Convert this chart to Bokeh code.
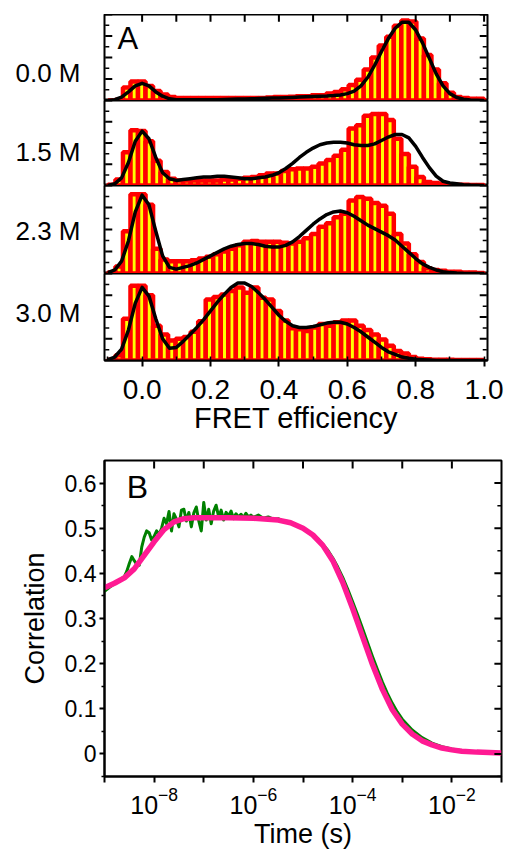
import math
from bokeh.plotting import figure
from bokeh.layouts import column
from bokeh.models import (FixedTicker, SingleIntervalTicker, NumeralTickFormatter,
                          Label, Range1d, Spacer)
from bokeh.embed import file_html
from bokeh.resources import INLINE

FONT = "Liberation Sans"

# ---------------- Panel A data ----------------
ROW_LABELS = ["0.0 M", "1.5 M", "2.3 M", "3.0 M"]

BIN_CENTERS = [-0.089, -0.067, -0.045, -0.023, -0.001, 0.021, 0.043, 0.065, 0.087, 0.109,
               0.131, 0.153, 0.175, 0.197, 0.219, 0.241, 0.263, 0.285, 0.307, 0.329,
               0.351, 0.373, 0.395, 0.417, 0.439, 0.461, 0.483, 0.505, 0.527, 0.549,
               0.571, 0.593, 0.615, 0.637, 0.659, 0.681, 0.703, 0.725, 0.747, 0.769,
               0.791, 0.813, 0.835, 0.857, 0.879, 0.901, 0.923, 0.945, 0.967, 0.989]
BIN_WIDTH = 0.022

HIST_00 = [0.00, 0.01, 0.15, 0.22, 0.22, 0.17, 0.11, 0.07, 0.04, 0.03,
           0.03, 0.03, 0.03, 0.03, 0.03, 0.03, 0.03, 0.03, 0.03, 0.03,
           0.03, 0.035, 0.04, 0.04, 0.045, 0.05, 0.05, 0.06, 0.06, 0.08,
           0.10, 0.13, 0.18, 0.24, 0.36, 0.50, 0.64, 0.74, 0.87, 0.93,
           0.92, 0.72, 0.53, 0.36, 0.20, 0.09, 0.04, 0.03, 0.02, 0.02]
HIST_15 = [0.01, 0.07, 0.39, 0.65, 0.64, 0.52, 0.29, 0.16, 0.08, 0.06,
           0.06, 0.06, 0.06, 0.06, 0.06, 0.07, 0.07, 0.08, 0.09, 0.10,
           0.12, 0.14, 0.14, 0.17, 0.19, 0.20, 0.20, 0.22, 0.26, 0.30,
           0.35, 0.42, 0.67, 0.71, 0.82, 0.84, 0.84, 0.77, 0.55, 0.37,
           0.22, 0.10, 0.04, 0.03, 0.02, 0.015, 0.01, 0.01, 0.005, 0.005]
HIST_23 = [0.01, 0.08, 0.48, 0.90, 0.90, 0.78, 0.28, 0.16, 0.14, 0.14,
           0.14, 0.15, 0.17, 0.19, 0.22, 0.25, 0.28, 0.32, 0.36, 0.37,
           0.36, 0.36, 0.36, 0.35, 0.34, 0.36, 0.40, 0.45, 0.53, 0.57,
           0.64, 0.68, 0.83, 0.87, 0.85, 0.80, 0.77, 0.68, 0.45, 0.34,
           0.22, 0.13, 0.06, 0.04, 0.03, 0.02, 0.02, 0.01, 0.01, 0.005]
HIST_30 = [0.01, 0.06, 0.48, 0.86, 0.86, 0.75, 0.40, 0.30, 0.23, 0.25,
           0.27, 0.33, 0.45, 0.70, 0.73, 0.76, 0.80, 0.84, 0.78, 0.84,
           0.72, 0.70, 0.57, 0.46, 0.37, 0.36, 0.34, 0.38, 0.42, 0.40,
           0.44, 0.46, 0.46, 0.40, 0.35, 0.30, 0.24, 0.17, 0.11, 0.08,
           0.04, 0.02, 0.015, 0.01, 0.01, 0.01, 0.005, 0.005, 0.005, 0.005]

FIT_X = [-0.10, -0.08, -0.06, -0.04, -0.02, 0.00, 0.02, 0.04, 0.06, 0.08,
         0.10, 0.12, 0.14, 0.16, 0.18, 0.20, 0.22, 0.24, 0.26, 0.28,
         0.30, 0.32, 0.34, 0.36, 0.38, 0.40, 0.42, 0.44, 0.46, 0.48,
         0.50, 0.52, 0.54, 0.56, 0.58, 0.60, 0.62, 0.64, 0.66, 0.68,
         0.70, 0.72, 0.74, 0.76, 0.78, 0.80, 0.82, 0.84, 0.86, 0.88,
         0.90, 0.92, 0.94, 0.96, 0.98, 1.00]
FIT_00 = [0.00, 0.01, 0.04, 0.10, 0.17, 0.20, 0.17, 0.10, 0.05, 0.02,
          0.01, 0.01, 0.01, 0.01, 0.01, 0.01, 0.01, 0.012, 0.014, 0.016,
          0.018, 0.02, 0.022, 0.025, 0.028, 0.03, 0.033, 0.036, 0.04, 0.043,
          0.046, 0.05, 0.053, 0.058, 0.065, 0.08, 0.11, 0.17, 0.27, 0.41,
          0.57, 0.72, 0.84, 0.91, 0.91, 0.82, 0.67, 0.49, 0.31, 0.17,
          0.08, 0.035, 0.015, 0.006, 0.003, 0.001]
FIT_15 = [0.00, 0.02, 0.09, 0.27, 0.52, 0.64, 0.55, 0.33, 0.15, 0.08,
          0.06, 0.07, 0.08, 0.09, 0.10, 0.10, 0.11, 0.11, 0.10, 0.09,
          0.08, 0.08, 0.09, 0.10, 0.12, 0.15, 0.20, 0.26, 0.33, 0.39,
          0.44, 0.48, 0.50, 0.51, 0.51, 0.50, 0.48, 0.47, 0.47, 0.49,
          0.53, 0.57, 0.60, 0.60, 0.56, 0.46, 0.33, 0.21, 0.11, 0.05,
          0.03, 0.02, 0.01, 0.005, 0.003, 0.0]
FIT_23 = [0.01, 0.04, 0.14, 0.37, 0.70, 0.89, 0.78, 0.48, 0.20, 0.07,
          0.05, 0.07, 0.09, 0.12, 0.16, 0.20, 0.24, 0.28, 0.31, 0.33,
          0.34, 0.34, 0.33, 0.31, 0.30, 0.30, 0.32, 0.36, 0.42, 0.49,
          0.56, 0.62, 0.67, 0.70, 0.71, 0.69, 0.65, 0.60, 0.55, 0.51,
          0.47, 0.43, 0.38, 0.31, 0.24, 0.17, 0.11, 0.07, 0.04, 0.02,
          0.01, 0.005, 0.002, 0.001, 0.0, 0.0]
FIT_30 = [0.01, 0.04, 0.13, 0.35, 0.66, 0.84, 0.74, 0.48, 0.25, 0.14,
          0.15, 0.22, 0.30, 0.38, 0.47, 0.57, 0.67, 0.76, 0.84, 0.89,
          0.89, 0.85, 0.78, 0.70, 0.61, 0.52, 0.45, 0.40, 0.38, 0.38,
          0.39, 0.41, 0.43, 0.44, 0.44, 0.42, 0.38, 0.33, 0.27, 0.21,
          0.15, 0.10, 0.07, 0.04, 0.025, 0.015, 0.01, 0.005, 0.0, 0.0,
          0.0, 0.0, 0.0, 0.0, 0.0, 0.0]

HISTS = [HIST_00, HIST_15, HIST_23, HIST_30]
FITS = [FIT_00, FIT_15, FIT_23, FIT_30]

# layout / axis furniture for panel A
FRAME_H = [86, 85, 88, 87]
LABEL_Y = [0.32, 0.40, 0.48, 0.55]          # where each concentration label sits
A_X_RANGE = (-0.11, 1.01)
A_Y_MAJOR = [0.0, 0.25, 0.5, 0.75, 1.0]
A_Y_MINOR = [0.125, 0.375, 0.625, 0.875]
A_TOP_TICKS = [0.0, 0.1, 0.2, 0.3, 0.4, 0.5, 0.6, 0.7, 0.8, 0.9, 1.0]

# ---------------- Panel B data ----------------
GREEN_LOGT = [-9.00, -8.90, -8.80, -8.70, -8.60, -8.55, -8.50, -8.45, -8.40, -8.35,
              -8.30, -8.25, -8.20, -8.15, -8.10, -8.05, -8.00, -7.95, -7.90, -7.85,
              -7.80, -7.75, -7.70, -7.65, -7.60, -7.55, -7.50, -7.45, -7.40, -7.35,
              -7.30, -7.25, -7.20, -7.15, -7.10, -7.05, -7.00, -6.95, -6.90, -6.85,
              -6.80, -6.75, -6.70, -6.65, -6.60, -6.55, -6.50, -6.45, -6.40, -6.35,
              -6.30, -6.25, -6.20, -6.15, -6.10, -6.05, -6.00, -5.90, -5.80, -5.70,
              -5.60, -5.50, -5.40, -5.30, -5.20, -5.10, -5.00, -4.90, -4.80, -4.70,
              -4.60, -4.50, -4.40, -4.30, -4.20, -4.10, -4.00, -3.90, -3.80, -3.70,
              -3.60, -3.50, -3.40, -3.30, -3.20, -3.10, -3.00, -2.80, -2.60, -2.40,
              -2.20, -2.00, -1.80, -1.50, -1.00]
GREEN_C = [0.360, 0.369, 0.377, 0.385, 0.393, 0.405, 0.422, 0.437, 0.428, 0.420,
           0.418, 0.458, 0.480, 0.494, 0.490, 0.474, 0.482, 0.494, 0.486, 0.500,
           0.522, 0.510, 0.537, 0.494, 0.532, 0.520, 0.503, 0.540, 0.542, 0.516,
           0.535, 0.503, 0.534, 0.547, 0.516, 0.494, 0.557, 0.518, 0.542, 0.510,
           0.538, 0.551, 0.525, 0.540, 0.518, 0.535, 0.527, 0.538, 0.521, 0.532,
           0.525, 0.531, 0.523, 0.533, 0.525, 0.529, 0.524, 0.529, 0.522, 0.525,
           0.520, 0.521, 0.516, 0.515, 0.509, 0.506, 0.499, 0.494, 0.485, 0.477,
           0.464, 0.451, 0.434, 0.414, 0.391, 0.365, 0.337, 0.308, 0.278, 0.247,
           0.216, 0.187, 0.159, 0.134, 0.112, 0.093, 0.077, 0.053, 0.036, 0.024,
           0.016, 0.011, 0.007, 0.004, 0.002]

FIT_LOGT = [-9.0, -8.8, -8.6, -8.4, -8.2, -8.0, -7.8, -7.6, -7.4, -7.2,
            -7.0, -6.5, -6.0, -5.5, -5.25, -5.0, -4.8, -4.6, -4.4, -4.2,
            -4.0, -3.8, -3.6, -3.4, -3.2, -3.0, -2.8, -2.6, -2.4, -2.2,
            -2.0, -1.8, -1.5, -1.0]
FIT_C = [0.368, 0.378, 0.390, 0.410, 0.440, 0.470, 0.497, 0.514, 0.521, 0.523,
         0.523, 0.523, 0.522, 0.518, 0.512, 0.500, 0.485, 0.462, 0.428, 0.380,
         0.322, 0.260, 0.198, 0.143, 0.098, 0.066, 0.044, 0.029, 0.020, 0.013,
         0.009, 0.006, 0.004, 0.002]

B_X_RANGE = (1e-9, 1e-1)
B_Y_RANGE = (-0.05, 0.65)
B_X_TICKS = [1e-8, 1e-6, 1e-4, 1e-2]
B_X_MINOR = [1e-9, 1e-7, 1e-5, 1e-3, 1e-1]
B_TOP_TICKS = [1e-8, 1e-7, 1e-6, 1e-5, 1e-4, 1e-3, 1e-2]
B_Y_MAJOR = [0.0, 0.1, 0.2, 0.3, 0.4, 0.5, 0.6]
B_Y_MINOR = [-0.05, 0.05, 0.15, 0.25, 0.35, 0.45, 0.55]
B_Y_LABELS = {0: "0", 0.1: "0.1", 0.2: "0.2", 0.3: "0.3", 0.4: "0.4", 0.5: "0.5", 0.6: "0.6"}


def base_style(p):
    p.background_fill_color = "white"
    p.border_fill_color = "white"
    p.outline_line_color = "black"
    p.outline_line_width = 2
    p.xgrid.visible = False
    p.ygrid.visible = False


def edge_ticks(p, xs, ys, length, vertical=False, width=2.0):
    # inward tick marks on an unlabelled side: rays drawn both ways from just
    # inside the frame edge; whatever falls outside the frame is clipped away
    angles = (math.pi / 2, -math.pi / 2) if vertical else (0.0, math.pi)
    for a in angles:
        p.ray(x=xs, y=ys, length=length, length_units="screen", angle=a,
              line_color="black", line_width=width)


a_span = A_X_RANGE[1] - A_X_RANGE[0]
a_left = A_X_RANGE[0] + 0.002 * a_span
a_right = A_X_RANGE[1] - 0.002 * a_span

figs = []
for i in range(4):
    first = i == 0
    last = i == 3
    p = figure(frame_width=383, frame_height=FRAME_H[i],
               x_range=Range1d(*A_X_RANGE), y_range=Range1d(0, 1),
               output_backend="svg", toolbar_location=None,
               x_axis_location=("below" if last else None),
               y_axis_location="left",
               min_border_left=104, min_border_right=19,
               min_border_top=0,
               min_border_bottom=(86 if last else 0))
    base_style(p)

    # left axis carries only the concentration label as its single tick label
    ya = p.yaxis[0]
    ya.ticker = FixedTicker(ticks=[LABEL_Y[i]])
    ya.major_label_overrides = {LABEL_Y[i]: ROW_LABELS[i]}
    ya.axis_line_color = None
    ya.major_tick_in = 0
    ya.major_tick_out = 0
    ya.major_label_standoff = 24
    ya.major_label_text_font = FONT
    ya.major_label_text_font_size = "26px"
    ya.major_label_text_color = "black"

    if last:
        xa = p.xaxis[0]
        xa.ticker = SingleIntervalTicker(interval=0.2, num_minor_ticks=2)
        xa.formatter = NumeralTickFormatter(format="0.0")
        xa.major_tick_out = 6
        xa.major_tick_in = 0
        xa.minor_tick_in = 4
        xa.minor_tick_out = 0
        xa.axis_line_width = 2
        xa.major_tick_line_width = 2
        xa.minor_tick_line_width = 1.5
        xa.major_label_text_font = FONT
        xa.major_label_text_font_size = "28px"
        xa.major_label_text_color = "black"
        xa.major_label_standoff = 13
        xa.axis_label = "FRET efficiency"
        xa.axis_label_text_font = FONT
        xa.axis_label_text_font_size = "29px"
        xa.axis_label_text_font_style = "normal"
        xa.axis_label_text_color = "black"
        xa.axis_label_standoff = 0

    lefts = [c - BIN_WIDTH / 2 for c in BIN_CENTERS]
    rights = [c + BIN_WIDTH / 2 for c in BIN_CENTERS]
    p.quad(left=lefts, right=rights, bottom=0, top=HISTS[i],
           fill_color="#FFFF00", line_color="#FF0000", line_width=4.5)
    p.line(FIT_X, FITS[i], line_color="black", line_width=3.5, line_join="round")

    for xe in (a_left, a_right):
        edge_ticks(p, [xe] * len(A_Y_MAJOR), A_Y_MAJOR, 7)
        edge_ticks(p, [xe] * len(A_Y_MINOR), A_Y_MINOR, 4, width=1.5)
    if first:
        edge_ticks(p, A_TOP_TICKS, [0.997] * len(A_TOP_TICKS), 7, vertical=True)
        p.add_layout(Label(x=-0.072, y=0.93, text="A", text_baseline="top",
                           text_align="left", text_font=FONT,
                           text_font_size="31px", text_color="black"))
    figs.append(p)

# ---------------- Panel B ----------------
green_t = [10 ** v for v in GREEN_LOGT]
fit_t = [10 ** v for v in FIT_LOGT]

pb = figure(frame_width=397, frame_height=316, x_axis_type="log",
            x_range=Range1d(*B_X_RANGE), y_range=Range1d(*B_Y_RANGE),
            output_backend="svg", toolbar_location=None,
            min_border_left=100, min_border_right=9,
            min_border_top=14, min_border_bottom=74)
base_style(pb)

ly = pb.yaxis[0]
ly.ticker = FixedTicker(ticks=B_Y_MAJOR, minor_ticks=B_Y_MINOR)
ly.major_tick_out = 5
ly.major_tick_in = 0
ly.minor_tick_out = 3
ly.minor_tick_in = 0
ly.axis_line_width = 2
ly.major_tick_line_width = 2
ly.minor_tick_line_width = 1.5
ly.major_label_text_font = FONT
ly.major_label_text_font_size = "23px"
ly.major_label_text_color = "black"
ly.major_label_standoff = 3
ly.major_label_overrides = B_Y_LABELS
ly.axis_label = "Correlation"
ly.axis_label_text_font = FONT
ly.axis_label_text_font_size = "27px"
ly.axis_label_text_font_style = "normal"
ly.axis_label_text_color = "black"
ly.axis_label_standoff = 12

bx = pb.xaxis[0]
bx.ticker = FixedTicker(ticks=B_X_TICKS, minor_ticks=B_X_MINOR)
bx.major_tick_out = 6
bx.major_tick_in = 0
bx.minor_tick_out = 6
bx.minor_tick_in = 0
bx.axis_line_width = 2
bx.major_tick_line_width = 2
bx.minor_tick_line_width = 2
bx.major_label_text_font = FONT
bx.major_label_text_font_size = "25px"
bx.major_label_text_color = "black"
bx.major_label_standoff = 4
bx.axis_label = "Time (s)"
bx.axis_label_text_font = FONT
bx.axis_label_text_font_size = "27px"
bx.axis_label_text_font_style = "normal"
bx.axis_label_text_color = "black"
bx.axis_label_standoff = 2

pb.line(green_t, GREEN_C, line_color="#008000", line_width=3, line_join="round")
pb.line(fit_t, FIT_C, line_color="#FF1A93", line_width=5.5, line_join="round")

b_right = B_X_RANGE[1] * 0.995
b_top = B_Y_RANGE[1] - 0.002
edge_ticks(pb, B_TOP_TICKS, [b_top] * len(B_TOP_TICKS), 7, vertical=True)
edge_ticks(pb, [b_right] * len(B_Y_MAJOR), B_Y_MAJOR, 7)
edge_ticks(pb, [b_right] * len(B_Y_MINOR), B_Y_MINOR, 4, width=1.5)

pb.add_layout(Label(x=2.8e-9, y=0.632, text="B", text_baseline="top",
                    text_align="left", text_font=FONT, text_font_size="32px",
                    text_color="black"))

layout = column(Spacer(height=14), *figs, pb, spacing=0)
open("out.html", "w").write(file_html(layout, INLINE))
